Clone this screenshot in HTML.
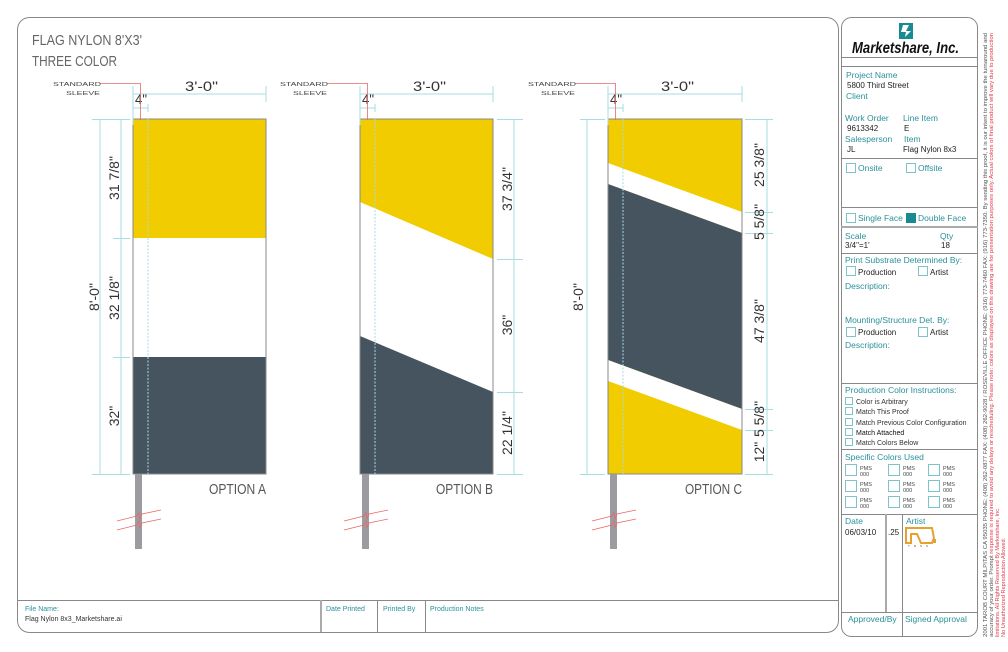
<!DOCTYPE html>
<html><head><meta charset="utf-8"><style>
html,body{margin:0;padding:0;background:#fff;}
svg{display:block;font-family:"Liberation Sans",Arial,sans-serif;}
.t{fill:#2a919b;font-size:8.5px;}
.k{fill:#222;font-size:8px;}
.s{fill:#2a919b;font-size:7px;}
.ks{fill:#333;font-size:7px;}
.p{fill:#444;font-size:5.5px;}
.d{fill:#333;font-size:14px;}
.cy{stroke:#a6dde3;stroke-width:1;fill:none;}
.cb{fill:#fff;stroke:#7fc3c8;stroke-width:1;}
</style></head><body>
<svg width="1008" height="652" viewBox="0 0 1008 652" xmlns="http://www.w3.org/2000/svg">
<rect width="1008" height="652" fill="#fff"/>
<rect x="17.5" y="17.5" width="821" height="615" rx="12" fill="none" stroke="#888" stroke-width="1"/>
<line x1="17" y1="600.5" x2="838" y2="600.5" stroke="#888"/>
<line x1="321" y1="600" x2="321" y2="632" stroke="#aaa" stroke-width="2"/>
<line x1="377.5" y1="600" x2="377.5" y2="632" stroke="#888"/>
<line x1="425.5" y1="600" x2="425.5" y2="632" stroke="#888"/>
<text x="25" y="611" class="s" font-size="7.5">File Name:</text>
<text x="25" y="621" class="ks" font-size="7.5">Flag Nylon 8x3_Marketshare.ai</text>
<text x="326" y="611" class="s" font-size="7.5">Date Printed</text>
<text x="383" y="611" class="s" font-size="7.5">Printed By</text>
<text x="430" y="611" class="s" font-size="7.5">Production Notes</text>

<text x="32" y="45" fill="#666" font-size="15" textLength="110" lengthAdjust="spacingAndGlyphs">FLAG NYLON 8'X3'</text>
<text x="32" y="66" fill="#666" font-size="15" textLength="85" lengthAdjust="spacingAndGlyphs">THREE COLOR</text>

<!-- FLAG A -->
<g>
<rect x="133" y="119" width="133" height="119" fill="#f0cc00"/>
<rect x="133" y="238" width="133" height="119" fill="#fff"/>
<rect x="133" y="357" width="133" height="117" fill="#45545e"/>
<rect x="133" y="119" width="133" height="355" fill="none" stroke="#888" stroke-width="1"/>
<line x1="148" y1="119" x2="148" y2="474" stroke="#a6dde3" stroke-dasharray="2,1.5"/>
<rect x="135" y="474" width="7" height="75" fill="#9b9ba0"/>
<path d="M117 521 L137 516 L139 512 L140 519 L142 514 L161 510 M117 530 L137 525 L139 521 L140 528 L142 523 L161 519" stroke="#e86a6a" fill="none" stroke-width="0.8"/>
<path class="cy" d="M133 94 H266 M266 86 V102 M133 86 V125 M133 108 H148 M148 104 V112"/>
<text x="185" y="91" class="d" textLength="33" lengthAdjust="spacingAndGlyphs">3'-0"</text>
<text x="135" y="104" class="d" font-size="12" textLength="12" lengthAdjust="spacingAndGlyphs">4"</text>
<path d="M100 83.5 H140.5 V120" stroke="#e86a6a" fill="none" stroke-width="0.8"/>
<text x="53" y="86" class="p" textLength="48" lengthAdjust="spacingAndGlyphs">STANDARD</text>
<text x="66" y="95" class="p" textLength="34" lengthAdjust="spacingAndGlyphs">SLEEVE</text>
<path class="cy" d="M100 119 V474 M121 119 V474 M92 119.5 H130 M113 238.5 H130 M113 357.5 H130 M92 474.5 H130"/>
<text transform="translate(99,297) rotate(-90)" class="d" text-anchor="middle">8'-0"</text>
<text transform="translate(119,178) rotate(-90)" class="d" text-anchor="middle">31 7/8"</text>
<text transform="translate(119,298) rotate(-90)" class="d" text-anchor="middle">32 1/8"</text>
<text transform="translate(119,416) rotate(-90)" class="d" text-anchor="middle">32"</text>
<text x="266" y="494" fill="#555" font-size="15" text-anchor="end" textLength="57" lengthAdjust="spacingAndGlyphs">OPTION A</text>
</g>

<!-- FLAG B -->
<g>
<rect x="360" y="119" width="133" height="355" fill="#fff"/>
<polygon points="360,119 493,119 493,259 360,202" fill="#f0cc00"/>
<polygon points="360,336 493,392 493,474 360,474" fill="#45545e"/>
<rect x="360" y="119" width="133" height="355" fill="none" stroke="#888" stroke-width="1"/>
<line x1="375" y1="119" x2="375" y2="474" stroke="#a6dde3" stroke-dasharray="2,1.5"/>
<rect x="362" y="474" width="7" height="75" fill="#9b9ba0"/>
<path d="M344 521 L364 516 L366 512 L367 519 L369 514 L388 510 M344 530 L364 525 L366 521 L367 528 L369 523 L388 519" stroke="#e86a6a" fill="none" stroke-width="0.8"/>
<path class="cy" d="M360 94 H493 M493 86 V102 M360 86 V125 M360 108 H375 M375 104 V112"/>
<text x="413" y="91" class="d" textLength="33" lengthAdjust="spacingAndGlyphs">3'-0"</text>
<text x="362" y="104" class="d" font-size="12" textLength="12" lengthAdjust="spacingAndGlyphs">4"</text>
<path d="M327 83.5 H367.5 V120" stroke="#e86a6a" fill="none" stroke-width="0.8"/>
<text x="280" y="86" class="p" textLength="48" lengthAdjust="spacingAndGlyphs">STANDARD</text>
<text x="293" y="95" class="p" textLength="34" lengthAdjust="spacingAndGlyphs">SLEEVE</text>
<path class="cy" d="M514 119 V474 M497 119.5 H523 M497 259.5 H523 M497 392.5 H523 M497 474.5 H523"/>
<text transform="translate(512,189) rotate(-90)" class="d" text-anchor="middle">37 3/4"</text>
<text transform="translate(512,325) rotate(-90)" class="d" text-anchor="middle">36"</text>
<text transform="translate(512,433) rotate(-90)" class="d" text-anchor="middle">22 1/4"</text>
<text x="493" y="494" fill="#555" font-size="15" text-anchor="end" textLength="57" lengthAdjust="spacingAndGlyphs">OPTION B</text>
</g>

<!-- FLAG C -->
<g>
<rect x="608" y="119" width="134" height="355" fill="#f0cc00"/>
<polygon points="608,163 742,212 742,233 608,184" fill="#fff"/>
<polygon points="608,184 742,233 742,409 608,360" fill="#45545e"/>
<polygon points="608,360 742,409 742,430 608,381" fill="#fff"/>
<rect x="608" y="119" width="134" height="355" fill="none" stroke="#888" stroke-width="1"/>
<line x1="623" y1="119" x2="623" y2="474" stroke="#a6dde3" stroke-dasharray="2,1.5"/>
<rect x="610" y="474" width="7" height="75" fill="#9b9ba0"/>
<path d="M592 521 L612 516 L614 512 L615 519 L617 514 L636 510 M592 530 L612 525 L614 521 L615 528 L617 523 L636 519" stroke="#e86a6a" fill="none" stroke-width="0.8"/>
<path class="cy" d="M608 94 H742 M742 86 V102 M608 86 V125 M608 108 H623 M623 104 V112"/>
<text x="661" y="91" class="d" textLength="33" lengthAdjust="spacingAndGlyphs">3'-0"</text>
<text x="610" y="104" class="d" font-size="12" textLength="12" lengthAdjust="spacingAndGlyphs">4"</text>
<path d="M575 83.5 H615.5 V120" stroke="#e86a6a" fill="none" stroke-width="0.8"/>
<text x="528" y="86" class="p" textLength="48" lengthAdjust="spacingAndGlyphs">STANDARD</text>
<text x="541" y="95" class="p" textLength="34" lengthAdjust="spacingAndGlyphs">SLEEVE</text>
<path class="cy" d="M587 119 V474 M580 119.5 H605 M580 474.5 H605"/>
<text transform="translate(583,297) rotate(-90)" class="d" text-anchor="middle">8'-0"</text>
<path class="cy" d="M767 119 V474 M745 119.5 H773 M745 212.5 H773 M745 233.5 H773 M745 409.5 H773 M745 430.5 H773 M745 474.5 H773"/>
<text transform="translate(764,165) rotate(-90)" class="d" text-anchor="middle">25 3/8"</text>
<text transform="translate(764,222) rotate(-90)" class="d" text-anchor="middle">5 5/8"</text>
<text transform="translate(764,321) rotate(-90)" class="d" text-anchor="middle">47 3/8"</text>
<text transform="translate(764,419) rotate(-90)" class="d" text-anchor="middle">5 5/8"</text>
<text transform="translate(764,452) rotate(-90)" class="d" text-anchor="middle">12"</text>
<text x="742" y="494" fill="#555" font-size="15" text-anchor="end" textLength="57" lengthAdjust="spacingAndGlyphs">OPTION C</text>
</g>

<!-- RIGHT PANEL -->
<rect x="841.5" y="17.5" width="136" height="619" rx="10" fill="none" stroke="#888"/>
<polygon points="899,23 913,23 913,39 899,39" fill="#1a8a92"/>
<polygon points="903,25 909,25 906,31 911,31 905,37 906,32 901,32" fill="#fff"/>
<text x="852" y="53" font-size="16" font-weight="bold" font-style="italic" fill="#111" textLength="107" lengthAdjust="spacingAndGlyphs">Marketshare, Inc.</text>
<line x1="841" y1="57.5" x2="978" y2="57.5" stroke="#888"/>
<line x1="841" y1="66.5" x2="978" y2="66.5" stroke="#888"/>
<text x="846" y="78" class="t">Project Name</text>
<text x="847" y="88" class="k">5800 Third Street</text>
<text x="846" y="99" class="t">Client</text>
<text x="845" y="121" class="t">Work Order</text>
<text x="903" y="121" class="t">Line Item</text>
<text x="847" y="131" class="k">9613342</text>
<text x="904" y="131" class="k">E</text>
<text x="845" y="142" class="t">Salesperson</text>
<text x="904" y="142" class="t">Item</text>
<text x="847" y="152" class="k">JL</text>
<text x="903" y="152" class="k" font-size="7.5">Flag Nylon 8x3</text>
<line x1="841" y1="158.5" x2="978" y2="158.5" stroke="#888"/>
<rect x="846.5" y="163.5" width="9" height="9" class="cb"/><text x="858" y="171" class="t">Onsite</text>
<rect x="906.5" y="163.5" width="9" height="9" class="cb"/><text x="918" y="171" class="t">Offsite</text>
<line x1="841" y1="207.5" x2="978" y2="207.5" stroke="#888"/>
<rect x="846.5" y="213.5" width="9" height="9" class="cb"/><text x="858" y="221" class="t">Single Face</text>
<rect x="906" y="213" width="10" height="10" fill="#1a8a92"/><text x="918" y="221" class="t">Double Face</text>
<line x1="841" y1="227" x2="978" y2="227" stroke="#aaa" stroke-width="2"/>
<text x="845" y="239" class="t">Scale</text><text x="940" y="239" class="t">Qty</text>
<text x="845" y="248" class="k" font-size="7.5">3/4"=1'</text><text x="941" y="248" class="k" font-size="7.5">18</text>
<line x1="841" y1="253.5" x2="978" y2="253.5" stroke="#888"/>
<text x="845" y="263" class="t">Print Substrate Determined By:</text>
<rect x="846.5" y="266.5" width="9" height="9" class="cb"/><text x="858" y="275" class="k">Production</text>
<rect x="918.5" y="266.5" width="9" height="9" class="cb"/><text x="930" y="275" class="k">Artist</text>
<text x="845" y="289" class="t">Description:</text>
<text x="845" y="323" class="t">Mounting/Structure Det. By:</text>
<rect x="846.5" y="327.5" width="9" height="9" class="cb"/><text x="858" y="335" class="k">Production</text>
<rect x="918.5" y="327.5" width="9" height="9" class="cb"/><text x="930" y="335" class="k">Artist</text>
<text x="845" y="348" class="t">Description:</text>
<line x1="841" y1="383.5" x2="978" y2="383.5" stroke="#888"/>
<text x="845" y="393" class="t">Production Color Instructions:</text>
<rect x="845.5" y="397.5" width="7" height="7" class="cb"/><text x="856" y="404" class="ks" font-size="6.5">Color is Arbitrary</text>
<rect x="845.5" y="407.5" width="7" height="7" class="cb"/><text x="856" y="414" class="ks" font-size="6.5">Match This Proof</text>
<rect x="845.5" y="418.5" width="7" height="7" class="cb"/><text x="856" y="425" class="ks" font-size="6.5">Match Previous Color Configuration</text>
<rect x="845.5" y="428.5" width="7" height="7" class="cb"/><text x="856" y="435" fill="#111" font-size="7">Match Attached</text>
<rect x="845.5" y="438.5" width="7" height="7" class="cb"/><text x="856" y="445" class="ks" font-size="6.5">Match Colors Below</text>
<line x1="841" y1="449.5" x2="978" y2="449.5" stroke="#888"/>
<text x="845" y="460" class="t">Specific Colors Used</text>
<g font-size="5.5" fill="#444">
<rect x="845.5" y="464.5" width="11" height="11" class="cb"/><text x="860" y="470">PMS</text><text x="860" y="476">000</text>
<rect x="888.5" y="464.5" width="11" height="11" class="cb"/><text x="903" y="470">PMS</text><text x="903" y="476">000</text>
<rect x="928.5" y="464.5" width="11" height="11" class="cb"/><text x="943" y="470">PMS</text><text x="943" y="476">000</text>
<rect x="845.5" y="480.5" width="11" height="11" class="cb"/><text x="860" y="486">PMS</text><text x="860" y="492">000</text>
<rect x="888.5" y="480.5" width="11" height="11" class="cb"/><text x="903" y="486">PMS</text><text x="903" y="492">000</text>
<rect x="928.5" y="480.5" width="11" height="11" class="cb"/><text x="943" y="486">PMS</text><text x="943" y="492">000</text>
<rect x="845.5" y="496.5" width="11" height="11" class="cb"/><text x="860" y="502">PMS</text><text x="860" y="508">000</text>
<rect x="888.5" y="496.5" width="11" height="11" class="cb"/><text x="903" y="502">PMS</text><text x="903" y="508">000</text>
<rect x="928.5" y="496.5" width="11" height="11" class="cb"/><text x="943" y="502">PMS</text><text x="943" y="508">000</text>
</g>
<line x1="841" y1="514.5" x2="978" y2="514.5" stroke="#888"/>
<line x1="886" y1="514" x2="886" y2="612" stroke="#aaa" stroke-width="2"/>
<line x1="902.5" y1="514" x2="902.5" y2="637" stroke="#888"/>
<text x="845" y="524" class="t">Date</text>
<text x="845" y="535" class="k" font-size="7.5">06/03/10</text>
<text x="888" y="535" class="k" font-size="7.5">.25</text>
<text x="906" y="524" class="t">Artist</text>
<path d="M906 528 H932 L934 538 L932 543 H921 L917 534 H911 V543 H906 Z" fill="none" stroke="#e8a030" stroke-width="2"/>
<rect x="933" y="539" width="3" height="4" fill="#e8a030"/>
<text x="908" y="547" font-size="3" fill="#7a4a00" letter-spacing="4">TRSS</text>
<line x1="841" y1="612.5" x2="978" y2="612.5" stroke="#888"/>
<text x="848" y="622" class="t">Approved/By</text>
<text x="905" y="622" class="t">Signed Approval</text>

<g font-size="5.6">
<text transform="translate(987,637) rotate(-90)" fill="#555" textLength="604" lengthAdjust="spacingAndGlyphs">2001 TAROB COURT MILPITAS CA 95035  PHONE: (408) 262-0877  FAX: (408) 262-9028 / ROSEVILLE OFFICE PHONE: (916) 773-7460  FAX: (916) 773-7350.  By sending this proof, it is our intent to improve the turnaround and</text>
<text transform="translate(993,637) rotate(-90)" fill="#555" textLength="604" lengthAdjust="spacingAndGlyphs">accuracy of your order. Prompt <tspan fill="#e03a4a">response is required to avoid any delays or rescheduling. Please note: colors as displayed on this drawing are for presentation purposes only. Actual colors of final product will vary due to production</tspan></text>
<text transform="translate(999,637) rotate(-90)" fill="#e03a4a">limitations. All Rights Reserved By Marketshare, Inc.</text>
<text transform="translate(1005,637) rotate(-90)" fill="#e03a4a">No Unauthorized Reproduction Allowed.</text>
</g>
</svg>
</body></html>
